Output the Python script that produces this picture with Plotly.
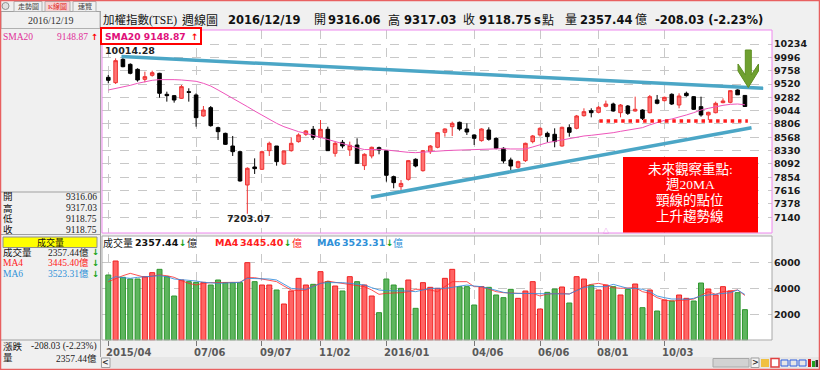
import plotly.graph_objects as go

# ---------------- data (weekly TAIEX, index 0 = 2015/04 ... 87 = 2016/12/19) ----------------
tick_idx = [0, 12, 21, 29, 38, 50, 59, 67, 76]
tick_labels = ["2015/04", "07/06", "09/07", "11/02", "2016/01", "04/06", "06/06", "08/01", "10/03"]

opens = [9639, 9544, 9960, 9871, 9782, 9603, 9675, 9711, 9336, 9312,
         9264, 9383, 9324, 8949, 9098, 8741, 8639, 8413, 8312, 7717,
         8039, 7997, 8330, 8413, 8092, 8330, 8491, 8622, 8711, 8568,
         8711, 8283, 8479, 8342, 8431, 8062, 8235, 8384, 8330, 7866,
         7688, 7818, 8176, 7973, 8312, 8390, 8657, 8758, 8836, 8717,
         8610, 8509, 8699, 8550, 8372, 8164, 8033, 8152, 8491, 8610,
         8639, 8622, 8413, 8741, 8729, 8955, 9044, 9014, 9122, 9163,
         9008, 9127, 9038, 9056, 9008, 9235, 9223, 9336, 9145, 9354,
         9294, 9116, 8967, 9008, 9187, 9193, 9413, 9316.06]
highs = [9681, 9978, 10014.28, 9889, 9800, 9740, 9758, 9720, 9383, 9324,
         9502, 9443, 9354, 9127, 9127, 8758, 8651, 8592, 8330, 8033,
         8193, 8330, 8491, 8413, 8330, 8568, 8639, 8699, 8770, 8877,
         8758, 8491, 8521, 8491, 8550, 8283, 8402, 8402, 8336, 7884,
         7806, 8164, 8193, 8342, 8431, 8657, 8729, 8848, 8848, 8818,
         8622, 8729, 8747, 8568, 8390, 8205, 8152, 8473, 8610, 8747,
         8669, 8729, 8758, 8800, 8967, 9086, 9086, 9127, 9223, 9187,
         9163, 9145, 9294, 9068, 9324, 9324, 9294, 9354, 9354, 9383,
         9306, 9294, 9026, 9205, 9264, 9413, 9425, 9317.03]
lows = [9532, 9520, 9818, 9693, 9562, 9550, 9651, 9276, 9205, 9187,
        9252, 9205, 8758, 8937, 8758, 8521, 8431, 8235, 7777, 7203.07,
        7914, 7985, 8235, 8062, 8074, 8312, 8473, 8592, 8521, 8550,
        8325, 8223, 8372, 8235, 8098, 7985, 8193, 8265, 7777, 7658,
        7628, 7795, 8033, 7955, 8271, 8372, 8580, 8592, 8687, 8610,
        8431, 8491, 8509, 8354, 8104, 7985, 8009, 8128, 8461, 8580,
        8479, 8390, 8402, 8580, 8711, 8937, 8925, 8996, 9104, 9026,
        8925, 8967, 9026, 8877, 8996, 9157, 9205, 9145, 9086, 9294,
        9056, 8937, 8877, 8996, 9175, 9175, 9324, 9118.75]
closes = [9586, 9937, 9829, 9711, 9592, 9651, 9722, 9354, 9312, 9234,
          9473, 9371, 8919, 9056, 8776, 8669, 8443, 8312, 7789, 8015,
          8009, 8312, 8461, 8134, 8324, 8461, 8610, 8681, 8568, 8711,
          8330, 8461, 8413, 8425, 8104, 8265, 8390, 8342, 7890, 7759,
          7745, 8152, 8056, 8330, 8413, 8651, 8717, 8818, 8717, 8663,
          8550, 8717, 8532, 8372, 8146, 8056, 8134, 8461, 8592, 8729,
          8580, 8491, 8747, 8657, 8949, 9026, 9008, 9104, 9163, 9038,
          9145, 8996, 9068, 8907, 9294, 9175, 9282, 9163, 9306, 9312,
          9068, 8967, 9014, 9175, 9217, 9401, 9326.78, 9118.75]
sma20 = [9413, 9437, 9467, 9496, 9532, 9562, 9586, 9598, 9603, 9598,
         9592, 9586, 9568, 9532, 9484, 9413, 9342, 9264, 9187, 9116,
         9038, 8961, 8889, 8818, 8758, 8711, 8669, 8639, 8604, 8568,
         8532, 8497, 8460, 8420, 8380, 8350, 8348, 8354, 8342, 8324,
         8306, 8300, 8294, 8306, 8312, 8318, 8330, 8336, 8342, 8348,
         8354, 8360, 8366, 8366, 8366, 8360, 8354, 8360, 8396, 8437,
         8473, 8497, 8521, 8544, 8580, 8592, 8604, 8616, 8634, 8651,
         8675, 8699, 8723, 8741, 8790, 8835, 8871, 8895, 8925, 8967,
         9008, 9056, 9086, 9116, 9139, 9157, 9163, 9148.87]
volume = [5023, 6100, 4843, 4715, 4715, 4895, 5202, 5459, 4895, 3408,
          4638, 4510, 4459, 4459, 4254, 4638, 4433, 4433, 4433, 5972,
          4510, 4254, 4254, 3869, 2792, 3792, 4766, 4254, 4305, 5279,
          4510, 4177, 3792, 4895, 4510, 4254, 3408, 2126, 4715, 4254,
          3997, 4638, 2459, 4433, 4074, 3997, 4766, 5459, 4126, 4126,
          2715, 4126, 4074, 3485, 3280, 3920, 3228, 3792, 4510, 2408,
          3690, 3946, 4100, 2869, 4895, 4715, 4254, 3869, 4254, 4126,
          3485, 3920, 4331, 2510, 3869, 2254, 3100, 3023, 3484, 3228,
          3023, 4407, 3946, 3484, 4125, 3792, 3664, 2357.44]
vol_ma4 = [4510, 4766, 4971, 5151, 5023, 4843, 4946, 5023, 4971, 4843,
           4587, 4382, 4254, 4382, 4433, 4459, 4459, 4459, 4459, 4818,
           4818, 4715, 4613, 4510, 4177, 3869, 3818, 3869, 4177, 4382,
           4562, 4459, 4382, 4331, 4203, 4126, 3869, 3536, 3613, 3613,
           3664, 3741, 3920, 3920, 3869, 3741, 4126, 4510, 4510, 4510,
           4126, 4126, 3946, 3741, 3664, 3613, 3613, 3613, 3613, 3408,
           3562, 3587, 3613, 3562, 3869, 4126, 4305, 4382, 4254, 4049,
           3997, 3997, 4049, 3741, 3613, 3280, 3100, 3023, 3049, 3100,
           3177, 3485, 3741, 3536, 3741, 3792, 3869, 3445.40]
vol_ma6 = [4638, 4895, 4818, 4766, 4843, 4895, 4946, 4971, 4895, 4715,
           4664, 4638, 4562, 4459, 4408, 4382, 4408, 4433, 4459, 4766,
           4766, 4766, 4715, 4638, 4305, 3997, 3946, 3920, 4126, 4382,
           4433, 4459, 4433, 4382, 4331, 4254, 4049, 3869, 3818, 3818,
           3818, 3792, 3741, 3869, 3997, 3997, 3997, 4074, 4177, 4250,
           4177, 4126, 3997, 3818, 3690, 3613, 3613, 3613, 3587, 3562,
           3562, 3562, 3562, 3562, 3818, 4074, 4126, 4126, 4126, 4305,
           4126, 3997, 3997, 3920, 3741, 3408, 3280, 3177, 3177, 3151,
           3228, 3408, 3485, 3562, 3613, 3664, 3869, 3523.31]
vol_up = [0, 1, 0, 0, 0, 1, 1, 0, 0, 0,
          1, 0, 0, 1, 0, 0, 0, 0, 0, 1,
          0, 1, 1, 0, 1, 1, 1, 1, 0, 1,
          0, 1, 0, 1, 0, 1, 1, 0, 0, 0,
          0, 1, 0, 1, 1, 1, 1, 1, 0, 0,
          0, 1, 0, 0, 0, 0, 1, 1, 1, 1,
          0, 0, 1, 0, 1, 1, 0, 1, 1, 0,
          1, 0, 1, 0, 1, 0, 1, 0, 1, 1,
          0, 0, 1, 1, 1, 1, 0, 0]
price_ticks = [7140, 7378, 7616, 7854, 8092, 8330, 8568, 8806, 9044, 9282, 9520, 9758, 9996, 10234]
vol_ticks = [2000, 4000, 6000]

upper_trend_idx = [1.8, 89.5]
upper_trend_price = [10010, 9443]
lower_trend_idx = [35.9, 87.9]
lower_trend_price = [7498, 8740]
neck_idx = [67.1, 87.4]
neck_price = [8860, 8860]

# ---------------- helpers ----------------
W, H = 820, 370
def px(x): return x / W
def py(y): return 1 - y / H

NUM = "DejaVu Sans"
SERIF = "Liberation Serif, Noto Sans CJK TC"
CJK = "Noto Sans CJK TC"

idx = list(range(len(closes)))
fig = go.Figure()

fig.add_trace(go.Candlestick(
    x=idx, open=opens, high=highs, low=lows, close=closes,
    increasing=dict(line=dict(color="#EE3333", width=1), fillcolor="#FF7272"),
    decreasing=dict(line=dict(color="#000000", width=1), fillcolor="#000000"),
    xaxis="x", yaxis="y", hoverinfo="skip", whiskerwidth=0))
fig.add_trace(go.Scatter(x=idx, y=sma20, mode="lines", line=dict(color="#EE55BB", width=1),
                         xaxis="x", yaxis="y", hoverinfo="skip"))
fig.add_trace(go.Scatter(x=upper_trend_idx, y=upper_trend_price, mode="lines",
                         line=dict(color="#4BA6C6", width=3.5), xaxis="x", yaxis="y", hoverinfo="skip"))
fig.add_trace(go.Scatter(x=lower_trend_idx, y=lower_trend_price, mode="lines",
                         line=dict(color="#4BA6C6", width=3.5), xaxis="x", yaxis="y", hoverinfo="skip"))
fig.add_trace(go.Scatter(x=neck_idx, y=neck_price, mode="lines",
                         line=dict(color="#FF1E1E", width=3.5, dash="3.5px,3.8px"),
                         xaxis="x", yaxis="y", hoverinfo="skip"))

bar_fill = ["#FF6464" if u else "#5EB55E" for u in vol_up]
bar_line = ["#F02020" if u else "#2E962E" for u in vol_up]
fig.add_trace(go.Bar(x=idx, y=volume, width=0.68, marker=dict(color=bar_fill, line=dict(color=bar_line, width=1)),
                     xaxis="x2", yaxis="y2", hoverinfo="skip"))
fig.add_trace(go.Scatter(x=idx, y=vol_ma4, mode="lines", line=dict(color="rgba(255,40,40,0.8)", width=1),
                         xaxis="x2", yaxis="y2", hoverinfo="skip"))
fig.add_trace(go.Scatter(x=idx, y=vol_ma6, mode="lines", line=dict(color="rgba(50,140,220,0.85)", width=1),
                         xaxis="x2", yaxis="y2", hoverinfo="skip"))

xr = [-0.86, 90.7]
grid = dict(showgrid=True, gridcolor="#C8C8C8", griddash="dash", gridwidth=1, zeroline=False)
fig.update_layout(
    width=W, height=H, autosize=False, showlegend=False,
    margin=dict(l=0, r=0, t=0, b=0, pad=0),
    paper_bgcolor="#F0F0F0", plot_bgcolor="#FFFFFF",
    xaxis=dict(domain=[px(102), px(772)], range=xr, anchor="y", tickvals=tick_idx,
               showticklabels=False, ticks="", rangeslider=dict(visible=False), **grid),
    yaxis=dict(domain=[py(233), py(30)], range=[6860, 10484], side="right", anchor="x",
               tickvals=price_ticks, tickformat="d", ticks="", ticklabelstandoff=1,
               tickfont=dict(family=NUM, size=9.5, color="#1A1A1A", weight="bold"), **grid),
    xaxis2=dict(domain=[px(102), px(772)], range=xr, anchor="y2", tickvals=tick_idx,
                showticklabels=False, ticks="outside", ticklen=5, tickcolor="#777777", **grid),
    yaxis2=dict(domain=[py(340.3), py(236)], range=[0, 8023], side="right", anchor="x2",
                tickvals=vol_ticks, tickformat="d", ticks="", ticklabelstandoff=1,
                tickfont=dict(family=NUM, size=9.5, color="#1A1A1A", weight="bold"), **grid),
)

shapes = []
ann = []

def T(x, y, s, size=10, color="#000000", family=NUM, bold=False, xa="left"):
    ann.append(dict(x=px(x), y=py(y), xref="paper", yref="paper", text=s, showarrow=False,
                    xanchor=xa, yanchor="middle", borderpad=0,
                    font=dict(family=family, size=size, color=color, weight="bold" if bold else "normal")))

def R(x0, y0, x1, y1, fill=None, line=None, lw=1):
    shapes.append(dict(type="rect", xref="paper", yref="paper", x0=px(x0), x1=px(x1), y0=py(y1), y1=py(y0),
                       fillcolor=fill if fill else "rgba(0,0,0,0)",
                       line=dict(color=line if line else "rgba(0,0,0,0)", width=lw if line else 0)))

def L(x0, y0, x1, y1, color="#A0A0A0", lw=1):
    shapes.append(dict(type="line", xref="paper", yref="paper", x0=px(x0), x1=px(x1), y0=py(y0), y1=py(y1),
                       line=dict(color=color, width=lw)))

# panel borders
R(102, 30, 772, 233, line="#EE88EE", lw=1)
R(102, 236, 772, 340, line="#A8A8A8", lw=1)

# left info panel
L(100.5, 11, 100.5, 357, "#A0A0A0")
R(1, 11.5, 100, 28.5, line="#B0B0B0")
L(0, 192, 100, 192, "#A0A0A0")
L(0, 234.5, 100, 234.5, "#A0A0A0")
L(0, 340, 100, 340, "#A0A0A0")
R(3, 237, 97, 247.5, fill="#FFFF00", line="#909090")

T(51, 20, "2016/12/19", 10, "#333333", SERIF, xa="center")
T(2, 37, "SMA20", 9.5, "#E0309A", SERIF)
T(89, 37, "9148.87", 9.5, "#E0309A", SERIF, xa="right")
T(90, 37, "↑", 8.5, "#FF0000", NUM, True)
for yy, lab, val in [(197, "開", "9316.06"), (208, "高", "9317.03"), (218.8, "低", "9118.75"), (229.5, "收", "9118.75")]:
    T(2, yy, lab, 9.5, "#111111", SERIF)
    T(97.5, yy, val, 9.5, "#222222", SERIF, xa="right")
T(50, 242.2, "成交量", 9, "#111111", SERIF, xa="center")
T(2, 252, "成交量", 9.5, "#111111", SERIF)
T(89.5, 252, "2357.44億", 9.5, "#222222", SERIF, xa="right")
T(91, 252, "↓", 8.5, "#10A010", NUM, True)
T(2, 262.5, "MA4", 9.5, "#FF2020", SERIF)
T(89.5, 262.5, "3445.40億", 9.5, "#FF2020", SERIF, xa="right")
T(91, 262.5, "↓", 8.5, "#10A010", NUM, True)
T(2, 273.5, "MA6", 9.5, "#3090D8", SERIF)
T(89.5, 273.5, "3523.31億", 9.5, "#3090D8", SERIF, xa="right")
T(91, 273.5, "↓", 8.5, "#10A010", NUM, True)
T(2, 346.5, "漲跌", 9.5, "#111111", SERIF)
T(97.5, 346.5, "-208.03 (-2.23%)", 9.5, "#222222", SERIF, xa="right")
T(2, 358, "量", 9.5, "#111111", SERIF)
T(97.5, 358, "2357.44億", 9.5, "#222222", SERIF, xa="right")

# tabs
L(0, 11.5, 100, 11.5, "#A0A0A0")
shapes.append(dict(type="circle", xref="paper", yref="paper", x0=px(2), x1=px(9), y0=py(9.5), y1=py(2.5),
                   line=dict(color="#909090", width=1), fillcolor="#E0E0E0"))
R(45, 1.5, 70, 11.5, fill="#F6D4D4", line="#B0B0B0")
R(14, 1.5, 42, 11.5, line="#B0B0B0")
R(73, 1.5, 96, 11.5, line="#B0B0B0")
T(28, 6.5, "走勢圖", 7, "#444444", SERIF, xa="center")
T(57.5, 6.5, "K線圖", 7, "#E02020", SERIF, xa="center")
T(85, 6.5, "速覽", 7, "#444444", SERIF, xa="center")

# header
HY = 20.5
T(102, HY, "加權指數(TSE)", 11.5, "#111111", SERIF)
T(181, HY, "週線圖", 12, "#111111", SERIF)
T(227, HY, "2016/12/19", 11.5, "#111111", NUM, True)
T(313, HY, "開", 12, "#111111", SERIF)
T(327, HY, "9316.06", 11.5, "#111111", NUM, True)
T(387, HY, "高", 12, "#111111", SERIF)
T(403, HY, "9317.03", 11.5, "#111111", NUM, True)
T(462, HY, "收", 12, "#111111", SERIF)
T(478, HY, "9118.75", 11.5, "#111111", NUM, True)
T(533, HY, "s", 11.5, "#111111", NUM, True)
T(541, HY, "點", 12, "#111111", SERIF)
T(564, HY, "量", 12, "#111111", SERIF)
T(579, HY, "2357.44", 11.5, "#111111", NUM, True)
T(634, HY, "億", 12, "#111111", SERIF)
T(654, HY, "-208.03 (-2.23%)", 11.5, "#111111", NUM, True)

# SMA20 badge
R(101, 28, 201, 44, fill="#FFFFFF", line="#FF0000", lw=2)
T(104, 36.5, "SMA20 9148.87", 9.2, "#E0107A", NUM, True)
T(190, 36.5, "↑", 9, "#FF0000", NUM, True)

# price annotations
T(104, 50.5, "10014.28", 9.5, "#222222", NUM, True)
T(226, 219, "7203.07", 9.5, "#222222", NUM, True)
T(605.5, 230.5, "△", 6, "#E060E0", CJK, xa="center")

# red note box
R(623, 157, 758, 232.5, fill="#FF0000")
for yy, s in [(169, "未來觀察重點:"), (184.5, "週20MA"), (200.5, "頸線的點位"), (216.5, "上升趨勢線")]:
    T(690, yy, s, 13.5, "#FFFFFF", SERIF, xa="center")

# green arrow
pts = [(745.3, 50), (751.3, 50), (751.3, 75), (758.5, 64), (758.5, 71), (748.3, 87.5),
       (738, 71), (738, 64), (745.3, 75)]
path = "M " + " L ".join(f"{px(a):.5f},{py(b):.5f}" for a, b in pts) + " Z"
shapes.append(dict(type="path", xref="paper", yref="paper", path=path, fillcolor="#6FA030",
                   line=dict(color="#5E8F22", width=1)))

# volume legend
VY = 243
T(102, VY, "成交量", 10, "#222222", CJK)
T(134, VY, "2357.44", 9.5, "#111111", NUM, True)
T(178, VY, "↓", 9, "#10A010", NUM, True)
T(186, VY, "億", 10, "#222222", CJK)
T(214, VY, "MA4", 9.5, "#FF2020", NUM, True)
T(239, VY, "3445.40", 9.5, "#FF2020", NUM, True)
T(283, VY, "↓", 9, "#10A010", NUM, True)
T(291, VY, "億", 10, "#FF2020", CJK)
T(316, VY, "MA6", 9.5, "#3090D8", NUM, True)
T(341, VY, "3523.31", 9.5, "#3090D8", NUM, True)
T(385, VY, "↓", 9, "#10A010", NUM, True)
T(392, VY, "億", 10, "#3090D8", CJK)

# x labels (left aligned at tick)
for ti, lab in zip(tick_idx, tick_labels):
    ann.append(dict(x=ti, y=py(352.5), xref="x2", yref="paper", text=lab, showarrow=False,
                    xanchor="left", yanchor="middle", xshift=-3, borderpad=0,
                    font=dict(family=NUM, size=10, color="#5A5A5A", weight="bold")))

# bottom scroll bar
R(100.5, 357, 820, 368.5, fill="#E6E6E6")
R(101.5, 358, 110, 367.5, fill="#F4F4F4", line="#A0A0A0")
T(105.8, 362.7, "<", 8, "#333333", NUM, True, xa="center")
R(713, 358.5, 749, 367, fill="#D2D2D2", line="#A8A8A8")
R(751, 358, 759, 367.5, fill="#F4F4F4", line="#A0A0A0")
T(755, 362.7, ">", 8, "#333333", NUM, True, xa="center")
R(761, 359, 769, 367, fill="#F0C040")
R(771, 358.5, 779, 367, fill="#FFFFFF", line="#E04040", lw=1.5)
R(781, 360, 788, 366, line="#3060E0", lw=1)
R(790, 360, 797, 366, line="#3060E0", lw=1)
R(799, 360, 806, 366, line="#3060E0", lw=1)
R(808, 359, 811, 367, fill="#D02020")
R(812, 361, 815, 367, fill="#20A020")
R(815.5, 360, 818, 367, fill="#303030")

# outer frame
R(0.5, 0.5, 819.5, 369.5, line="#E86060", lw=1.5)

fig.update_layout(shapes=shapes, annotations=ann)
fig.write_html("out.html", config={"displayModeBar": False},
               post_script="document.body.style.margin='0';document.body.style.overflow='hidden';")
